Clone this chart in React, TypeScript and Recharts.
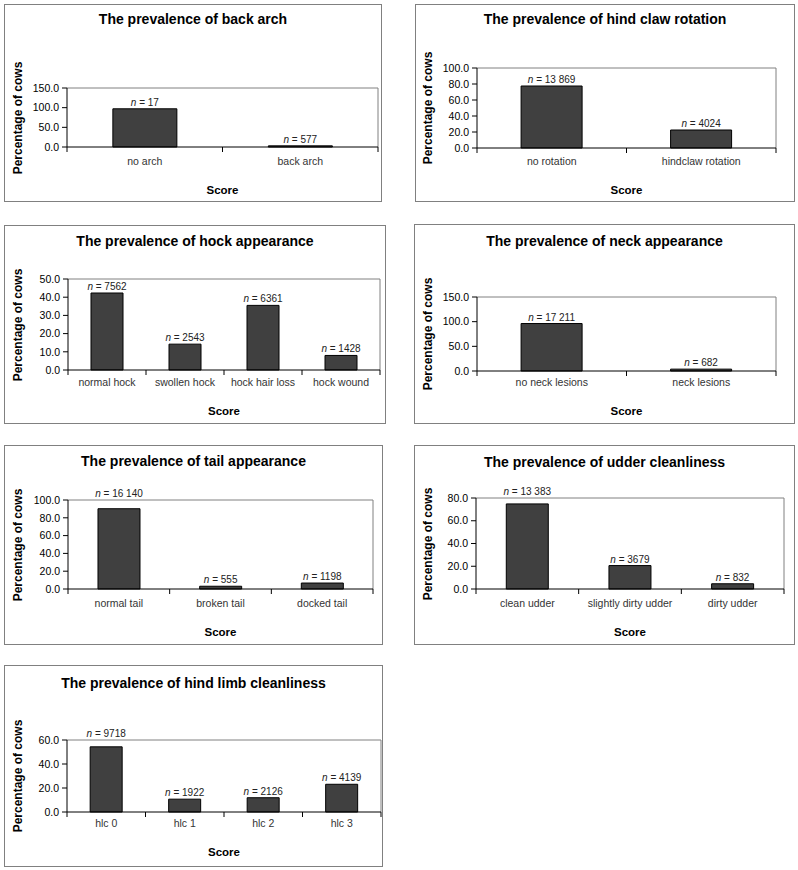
import { BarChart, Bar, XAxis, YAxis, LabelList, CartesianGrid } from "recharts"

const FONT = '"Liberation Sans", Arial, Helvetica, sans-serif'

// back arch
const archCategories = ["no arch", "back arch"]
const archValues = [97.1, 2.9]
const archCounts = ["17", "577"]
const archTicks = [0, 50, 100, 150]

// hind claw rotation
const clawCategories = ["no rotation", "hindclaw rotation"]
const clawValues = [77.5, 22.5]
const clawCounts = ["13 869", "4024"]
const clawTicks = [0, 20, 40, 60, 80, 100]

// hock appearance
const hockCategories = ["normal hock", "swollen hock", "hock hair loss", "hock wound"]
const hockValues = [42.3, 14.2, 35.5, 8.0]
const hockCounts = ["7562", "2543", "6361", "1428"]
const hockTicks = [0, 10, 20, 30, 40, 50]

// neck appearance
const neckCategories = ["no neck lesions", "neck lesions"]
const neckValues = [96.2, 3.8]
const neckCounts = ["17 211", "682"]
const neckTicks = [0, 50, 100, 150]

// tail appearance
const tailCategories = ["normal tail", "broken tail", "docked tail"]
const tailValues = [90.2, 3.1, 6.7]
const tailCounts = ["16 140", "555", "1198"]
const tailTicks = [0, 20, 40, 60, 80, 100]

// udder cleanliness
const udderCategories = ["clean udder", "slightly dirty udder", "dirty udder"]
const udderValues = [74.8, 20.6, 4.6]
const udderCounts = ["13 383", "3679", "832"]
const udderTicks = [0, 20, 40, 60, 80]

// hind limb cleanliness
const hlcCategories = ["hlc 0", "hlc 1", "hlc 2", "hlc 3"]
const hlcValues = [54.3, 10.7, 11.9, 23.1]
const hlcCounts = ["9718", "1922", "2126", "4139"]
const hlcTicks = [0, 20, 40, 60]

type Layout = {
  box: [number, number, number, number] // x, y, w, h
  plot: [number, number, number, number] // left, top, right, bottom
  titleY: number
  catY: number
  scoreY: number
  labelX: number
}

type PanelProps = {
  title: string
  categories: string[]
  values: number[]
  counts: string[]
  ticks: number[]
  layout: Layout
}

function Panel({ title, categories, values, counts, ticks, layout }: PanelProps) {
  const [bx, by, bw, bh] = layout.box
  const [pl, pt, pr, pb] = layout.plot
  const yw = 40
  const xh = 40
  const max = ticks[ticks.length - 1]
  const data = categories.map((c, i) => ({ cat: c, value: values[i], n: counts[i] }))
  const band = (pr - pl) / categories.length
  const catOffset = layout.catY - pb
  const plotTop = pt - by

  const renderTick = (props: any) => {
    const x = Number(props.x)
    const y = Number(props.y)
    const last = props.index === categories.length - 1
    return (
      <g>
        <line x1={x - band / 2} x2={x - band / 2} y1={y} y2={y + 5} stroke="#000" />
        {last && <line x1={x + band / 2} x2={x + band / 2} y1={y} y2={y + 5} stroke="#000" />}
        <text
          x={x}
          y={y + catOffset}
          textAnchor="middle"
          dominantBaseline="central"
          fontSize={10.5}
          fontFamily={FONT}
          fill="#333"
        >
          {props.payload.value}
        </text>
      </g>
    )
  }

  const renderN = (props: any) => {
    const x = Number(props.x)
    const y = Number(props.y)
    const w = Number(props.width)
    // labels that would sit on the plot frame are lifted above it
    let cy = y - 7
    if (cy - plotTop < 6) cy = plotTop - 7
    return (
      <text
        x={x + w / 2}
        y={cy}
        textAnchor="middle"
        dominantBaseline="central"
        fontSize={10}
        fontFamily={FONT}
        fill="#222"
      >
        <tspan fontStyle="italic">n</tspan>
        <tspan>{" = " + props.value}</tspan>
      </text>
    )
  }

  return (
    <div style={{ position: "absolute", left: bx, top: by, width: bw, height: bh }}>
      <div
        style={{
          position: "absolute",
          left: 0,
          top: 0,
          width: bw,
          height: bh,
          boxSizing: "border-box",
          border: "1px solid #808080",
        }}
      />
      <div style={{ position: "absolute", left: 0, top: 0 }}>
        <BarChart
          width={bw}
          height={bh}
          data={data}
          margin={{ top: pt - by, right: bx + bw - pr, bottom: by + bh - pb - xh, left: pl - bx - yw }}
          barCategoryGap="29.5%"
        >
          {/* plot-area frame on top and right, as in the spreadsheet original */}
          <CartesianGrid
            stroke="#808080"
            horizontalCoordinatesGenerator={({ offset }: any) => [offset.top]}
            verticalCoordinatesGenerator={({ offset }: any) => [offset.left + offset.width]}
          />
          <XAxis
            dataKey="cat"
            type="category"
            interval={0}
            height={xh}
            tickLine={false}
            tickSize={0}
            tickMargin={0}
            axisLine={{ stroke: "#000" }}
            tick={renderTick}
          />
          <YAxis
            type="number"
            domain={[0, max]}
            ticks={ticks}
            interval={0}
            width={yw}
            tickFormatter={(v: number) => v.toFixed(1)}
            tick={{ fontSize: 10.5, fill: "#000", fontFamily: FONT }}
            tickSize={5}
            tickMargin={3}
            axisLine={{ stroke: "#000" }}
            tickLine={{ stroke: "#000" }}
          />
          <Bar dataKey="value" fill="#404040" stroke="#000" strokeWidth={1} isAnimationActive={false}>
            <LabelList dataKey="n" content={renderN} />
          </Bar>
        </BarChart>
      </div>
      <div
        style={{
          position: "absolute",
          left: 0,
          width: bw,
          top: layout.titleY - by,
          transform: "translateY(-50%)",
          textAlign: "center",
          fontFamily: FONT,
          fontWeight: "bold",
          fontSize: 14,
          lineHeight: "16px",
          color: "#000",
        }}
      >
        {title}
      </div>
      <div
        style={{
          position: "absolute",
          left: pl - bx,
          width: pr - pl,
          top: layout.scoreY - by,
          transform: "translateY(-50%)",
          textAlign: "center",
          fontFamily: FONT,
          fontWeight: "bold",
          fontSize: 11.5,
          lineHeight: "14px",
          color: "#000",
        }}
      >
        Score
      </div>
      <div
        style={{
          position: "absolute",
          left: layout.labelX - bx,
          top: (pt + pb) / 2 - by,
          transform: "translate(-50%, -50%) rotate(-90deg)",
          whiteSpace: "nowrap",
          fontFamily: FONT,
          fontWeight: "bold",
          fontSize: 12,
          lineHeight: "14px",
          color: "#000",
        }}
      >
        Percentage of cows
      </div>
    </div>
  )
}

export default function App() {
  return (
    <div style={{ position: "absolute", left: 0, top: 0, width: 798, height: 870, background: "#fff" }}>
      <Panel
        title="The prevalence of back arch"
        categories={archCategories}
        values={archValues}
        counts={archCounts}
        ticks={archTicks}
        layout={{ box: [4, 4, 378, 198], plot: [67, 88, 378, 147], titleY: 19, catY: 161, scoreY: 190, labelX: 18 }}
      />
      <Panel
        title="The prevalence of hind claw rotation"
        categories={clawCategories}
        values={clawValues}
        counts={clawCounts}
        ticks={clawTicks}
        layout={{ box: [415, 4, 380, 198], plot: [477, 68, 776, 148], titleY: 19, catY: 161, scoreY: 190, labelX: 428 }}
      />
      <Panel
        title="The prevalence of hock appearance"
        categories={hockCategories}
        values={hockValues}
        counts={hockCounts}
        ticks={hockTicks}
        layout={{ box: [4, 225, 382, 199], plot: [68, 279, 380, 370], titleY: 241, catY: 382, scoreY: 411, labelX: 18 }}
      />
      <Panel
        title="The prevalence of neck appearance"
        categories={neckCategories}
        values={neckValues}
        counts={neckCounts}
        ticks={neckTicks}
        layout={{ box: [414, 224, 381, 200], plot: [477, 297, 776, 371], titleY: 241, catY: 382, scoreY: 411, labelX: 428 }}
      />
      <Panel
        title="The prevalence of tail appearance"
        categories={tailCategories}
        values={tailValues}
        counts={tailCounts}
        ticks={tailTicks}
        layout={{ box: [4, 445, 379, 200], plot: [68, 500, 373, 589], titleY: 461, catY: 603, scoreY: 632, labelX: 18 }}
      />
      <Panel
        title="The prevalence of udder cleanliness"
        categories={udderCategories}
        values={udderValues}
        counts={udderCounts}
        ticks={udderTicks}
        layout={{ box: [414, 445, 381, 200], plot: [476, 498, 784, 589], titleY: 462, catY: 603, scoreY: 632, labelX: 428 }}
      />
      <Panel
        title="The prevalence of hind limb cleanliness"
        categories={hlcCategories}
        values={hlcValues}
        counts={hlcCounts}
        ticks={hlcTicks}
        layout={{ box: [4, 665, 379, 202], plot: [67, 740, 381, 812], titleY: 683, catY: 823, scoreY: 852, labelX: 18 }}
      />
    </div>
  )
}
